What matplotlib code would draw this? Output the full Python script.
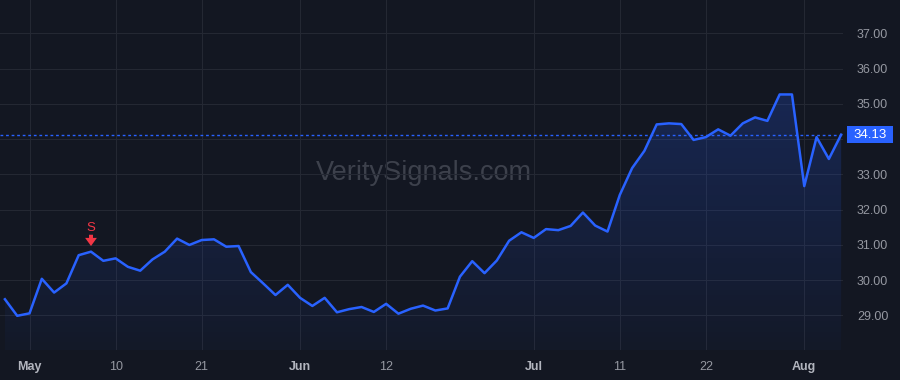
import numpy as np
import pandas as pd
import matplotlib
matplotlib.use("Agg")
import matplotlib.pyplot as plt
from matplotlib.colors import LinearSegmentedColormap
from matplotlib.patches import Rectangle

# trading days shown on the chart
holidays = ["2024-05-27", "2024-06-19", "2024-07-04"]
dates = [d for d in pd.bdate_range("2024-04-29", "2024-08-06") if d.strftime("%Y-%m-%d") not in holidays]

close = [29.46, 28.99, 29.06, 30.04, 29.65, 29.91, 30.71, 30.81, 30.55, 30.62,
         30.38, 30.27, 30.59, 30.81, 31.18, 31.00, 31.14, 31.16, 30.95, 30.97,
         30.23, 29.91, 29.58, 29.87, 29.50, 29.27, 29.50, 29.09, 29.18, 29.24,
         29.10, 29.33, 29.05, 29.19, 29.28, 29.14, 29.20, 30.10, 30.54, 30.20,
         30.56, 31.12, 31.36, 31.20, 31.45, 31.42, 31.54, 31.92, 31.55, 31.38,
         32.42, 33.18, 33.67, 34.42, 34.45, 34.43, 33.98, 34.06, 34.28, 34.10,
         34.45, 34.62, 34.52, 35.27, 35.27, 32.67, 34.06, 33.44, 34.13]

tick_dates = ["2024-05-01", "2024-05-10", "2024-05-21", "2024-06-03", "2024-06-12",
              "2024-07-01", "2024-07-11", "2024-07-22", "2024-08-01"]
tick_labels = ["May", "10", "21", "Jun", "12", "Jul", "11", "22", "Aug"]
month_labels = ["May", "Jun", "Jul", "Aug"]
y_ticks = [29, 30, 31, 32, 33, 34, 35, 36, 37]
signal_date = "2024-05-08"
signal_text = "S"
last_price = 34.13

BG = "#131722"
GRID = "#242833"
LINE = "#2962ff"
TXT = "#9598a1"

plt.rcParams["font.family"] = ["Liberation Sans", "DejaVu Sans"]

fig = plt.figure(figsize=(9, 3.8), dpi=100, facecolor=BG)
ax = fig.add_axes([0, 1 - 350 / 380, 843 / 900, 350 / 380])
ax.set_facecolor(BG)

x = np.arange(len(close))
y = np.array(close)
ax.set_xlim(-0.4, 68.15)
ax.set_ylim(28.02, 37.95)

# gradient area under the line
poly = ax.fill_between(x, y, 28.02, color="none", lw=0)
cmap = LinearSegmentedColormap.from_list("g", [(0.16, 0.38, 1.0, 0.03), (0.16, 0.38, 1.0, 0.22)])
grad = np.linspace(0, 1, 256).reshape(-1, 1)
img = ax.imshow(grad, cmap=cmap, aspect="auto", origin="lower",
                extent=[-0.4, 68.15, 28.02, max(close)], zorder=1)
img.set_clip_path(poly.get_paths()[0], transform=ax.transData)

ax.plot(x, y, color=LINE, lw=1.8, zorder=3, solid_joinstyle="round")

# last price line + label on the price scale
ax.axhline(last_price, color=LINE, lw=1, ls=(0, (2, 2)), zorder=2)
ytr = ax.transData.transform((0, last_price))[1] / fig.dpi / 3.8
fig.patches.append(Rectangle((847 / 900, ytr - 8.5 / 380), 46 / 900, 17 / 380,
                             transform=fig.transFigure, fc=LINE, ec="none"))
fig.text(870 / 900, ytr, f"{last_price:.2f}", ha="center", va="center", color="white", fontsize=9.5)

# signal marker
str_dates = [d.strftime("%Y-%m-%d") for d in dates]
si = str_dates.index(signal_date)
ax.annotate("", xy=(si, close[si] + 0.16), xytext=(si, close[si] + 0.48),
            arrowprops=dict(arrowstyle="simple,head_length=0.45,head_width=0.65,tail_width=0.22",
                            fc="#f23645", ec="none", mutation_scale=13, shrinkA=0, shrinkB=0), zorder=4)
ax.text(si, close[si] + 0.68, signal_text, color="#f23645", ha="center", va="center", fontsize=9.5)

# watermark
ax.text(0.503, 0.506, "VeritySignals.com", transform=ax.transAxes, ha="center", va="center",
        fontsize=19.5, color="#3d414c", zorder=0)

# axes
ax.set_xticks([str_dates.index(t) for t in tick_dates])
ax.set_xticklabels(tick_labels)
for lbl in ax.get_xticklabels():
    if lbl.get_text() in month_labels:
        lbl.set_fontweight("bold")
        lbl.set_color("#b2b5be")
    else:
        lbl.set_color(TXT)
ax.set_yticks(y_ticks)
# 34.00 sits under the price label, so it is left blank
ax.set_yticklabels(["" if abs(v - last_price) < 0.5 else f"{v:.2f}" for v in y_ticks])
ax.yaxis.tick_right()
ax.tick_params(axis="y", length=0, pad=10, labelsize=9, labelcolor=TXT)
ax.tick_params(axis="x", length=0, pad=8, labelsize=9)
ax.grid(True, color=GRID, lw=0.8, zorder=0)
ax.set_axisbelow(True)
for s in ax.spines.values():
    s.set_visible(False)

fig.savefig("out.png", dpi=100, facecolor=BG)
